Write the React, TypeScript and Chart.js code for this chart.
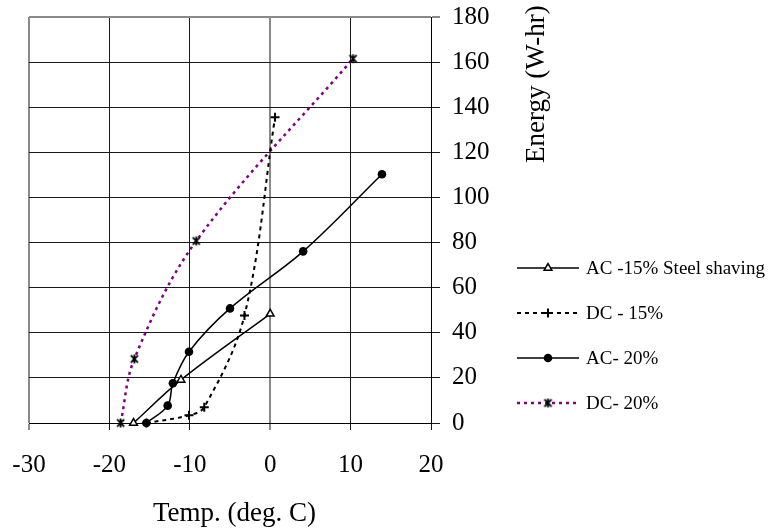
import React, { useEffect, useRef } from "react";
import { Chart, registerables } from "chart.js";

Chart.register(...registerables);

const FONT = "'Liberation Serif', 'Times New Roman', Times, serif";

// Axis ticks
const xTicks = [-30, -20, -10, 0, 10, 20];
const yTicks = [0, 20, 40, 60, 80, 100, 120, 140, 160, 180];
const xTitle = "Temp. (deg. C)";
const yTitle = "Energy (W-hr)";

// Series names
const seriesNames = ["AC -15% Steel shaving", "DC - 15%", "AC- 20%", "DC- 20%"];

// AC -15% Steel shaving
const acSteel15X = [-17.0, -11.1, 0.0];
const acSteel15Y = [0, 19.1, 48.4];

// DC - 15%
const dc15X = [-15.4, -10.1, -8.2, -3.2, 0.6];
const dc15Y = [0, 3.4, 7.0, 47.7, 135.5];

// AC- 20%
const ac20X = [-15.4, -12.75, -12.1, -10.1, -5.0, 4.1, 13.9];
const ac20Y = [0, 7.7, 17.6, 31.6, 50.8, 76.1, 110.3];

// DC- 20%
const dc20X = [-18.6, -16.9, -9.2, 10.3];
const dc20Y = [0, 28.4, 80.7, 161.5];

const PURPLE = "#800080";

function zip(xs: number[], ys: number[]) {
  return xs.map((x, i) => ({ x, y: ys[i] }));
}

function makeAsterisk(size: number, color: string) {
  const c = document.createElement("canvas");
  c.width = size;
  c.height = size;
  const g = c.getContext("2d")!;
  g.strokeStyle = color;
  g.lineWidth = 1.8;
  const m = size / 2;
  const r = size / 2 - 1;
  const d = r * 0.8;
  g.beginPath();
  g.moveTo(m - d, m - d);
  g.lineTo(m + d, m + d);
  g.moveTo(m + d, m - d);
  g.lineTo(m - d, m + d);
  g.moveTo(m, m - r);
  g.lineTo(m, m + r);
  g.stroke();
  return c;
}

function drawMarker(ctx: CanvasRenderingContext2D, kind: string, x: number, y: number, star: HTMLCanvasElement) {
  ctx.save();
  ctx.setLineDash([]);
  ctx.strokeStyle = "#000";
  ctx.fillStyle = "#000";
  if (kind === "triangle") {
    const r = 4.5;
    ctx.lineWidth = 1.5;
    ctx.fillStyle = "#fff";
    ctx.beginPath();
    ctx.moveTo(x, y - r);
    ctx.lineTo(x + r * 0.866, y + r * 0.5);
    ctx.lineTo(x - r * 0.866, y + r * 0.5);
    ctx.closePath();
    ctx.fill();
    ctx.stroke();
  } else if (kind === "cross") {
    const r = 4.5;
    ctx.lineWidth = 2;
    ctx.beginPath();
    ctx.moveTo(x - r, y);
    ctx.lineTo(x + r, y);
    ctx.moveTo(x, y - r);
    ctx.lineTo(x, y + r);
    ctx.stroke();
  } else if (kind === "circle") {
    ctx.beginPath();
    ctx.arc(x, y, 4.3, 0, Math.PI * 2);
    ctx.fill();
  } else {
    ctx.drawImage(star, x - star.width / 2, y - star.height / 2);
  }
  ctx.restore();
}

export default function App() {
  const canvasRef = useRef<HTMLCanvasElement | null>(null);

  useEffect(() => {
    if (!canvasRef.current) return;
    const star = makeAsterisk(11, "#000");

    const legendItems = [
      { name: seriesNames[0], color: "#000", dash: [] as number[], marker: "triangle", width: 1.5 },
      { name: seriesNames[1], color: "#000", dash: [4, 4], marker: "cross", width: 2 },
      { name: seriesNames[2], color: "#000", dash: [] as number[], marker: "circle", width: 1.5 },
      { name: seriesNames[3], color: PURPLE, dash: [3, 4], marker: "star", width: 2.5 },
    ];

    const decorPlugin = {
      id: "decor",
      afterDraw(chart: any) {
        const ctx: CanvasRenderingContext2D = chart.ctx;
        ctx.save();
        ctx.fillStyle = "#000";
        ctx.font = `27px ${FONT}`;
        ctx.textAlign = "left";
        ctx.textBaseline = "alphabetic";
        ctx.fillText(xTitle, 153, 521);

        ctx.save();
        ctx.translate(544, 163);
        ctx.rotate(-Math.PI / 2);
        ctx.fillText(yTitle, 0, 0);
        ctx.restore();

        // legend
        const rows = [268, 313, 358, 403];
        const x0 = 517;
        const x1 = 579;
        legendItems.forEach((it, i) => {
          const y = rows[i];
          ctx.save();
          ctx.strokeStyle = it.color;
          ctx.lineWidth = it.width;
          ctx.setLineDash(it.dash);
          ctx.beginPath();
          ctx.moveTo(x0, y);
          ctx.lineTo(x1, y);
          ctx.stroke();
          ctx.restore();
          drawMarker(ctx, it.marker, (x0 + x1) / 2, y, star);
          ctx.fillStyle = "#000";
          ctx.font = `19px ${FONT}`;
          ctx.textBaseline = "alphabetic";
          ctx.fillText(it.name, 586, y + 5.5);
        });
        ctx.restore();
      },
    };

    const gridColorX = (c: any) => {
      const v = c.tick ? c.tick.value : null;
      return v === -30 || v === 0 ? "#8a8a8a" : "#1a1a1a";
    };
    const gridWidthX = (c: any) => {
      const v = c.tick ? c.tick.value : null;
      return v === -30 || v === 0 ? 2 : 1;
    };
    const gridColorY = (c: any) => {
      const v = c.tick ? c.tick.value : null;
      return v === 180 ? "#8a8a8a" : "#1a1a1a";
    };
    const gridWidthY = (c: any) => {
      const v = c.tick ? c.tick.value : null;
      return v === 180 ? 2 : 1;
    };

    const chart = new Chart(canvasRef.current, {
      type: "line",
      data: {
        datasets: [
          {
            label: seriesNames[0],
            data: zip(acSteel15X, acSteel15Y),
            borderColor: "#000",
            borderWidth: 1.5,
            tension: 0.35,
            pointStyle: "triangle",
            pointRadius: 4.5,
            pointBackgroundColor: "#fff",
            pointBorderColor: "#000",
            pointBorderWidth: 1.5,
            clip: false,
          },
          {
            label: seriesNames[1],
            data: zip(dc15X, dc15Y),
            borderColor: "#000",
            borderWidth: 2,
            borderDash: [4, 4],
            tension: 0.35,
            pointStyle: "cross",
            pointRadius: 4.5,
            pointBorderColor: "#000",
            pointBorderWidth: 2,
            clip: false,
          },
          {
            label: seriesNames[2],
            data: zip(ac20X, ac20Y),
            borderColor: "#000",
            borderWidth: 1.5,
            tension: 0.35,
            pointStyle: "circle",
            pointRadius: 4.3,
            pointBackgroundColor: "#000",
            pointBorderColor: "#000",
            pointBorderWidth: 0,
            clip: false,
          },
          {
            label: seriesNames[3],
            data: zip(dc20X, dc20Y),
            borderColor: PURPLE,
            borderWidth: 2.5,
            borderDash: [3, 4],
            tension: 0.35,
            pointStyle: star as any,
            pointRadius: 5,
            clip: false,
          },
        ],
      },
      options: {
        animation: false,
        responsive: false,
        maintainAspectRatio: false,
        events: [],
        layout: { autoPadding: false, padding: { left: 29, top: 17, right: 0, bottom: 0 } },
        plugins: { legend: { display: false }, tooltip: { enabled: false }, title: { display: false } },
        scales: {
          x: {
            type: "linear",
            position: "bottom",
            min: -30,
            max: 20,
            afterBuildTicks: (s: any) => {
              s.ticks = xTicks.map((v) => ({ value: v }));
            },
            afterFit: (s: any) => {
              s.height = 529 - 423;
              s.paddingLeft = 0;
              s.paddingRight = 0;
              s.paddingTop = 0;
              s.paddingBottom = 0;
            },
            ticks: {
              color: "#000",
              font: { family: FONT, size: 25 },
              padding: 20,
              maxRotation: 0,
              autoSkip: false,
            },
            grid: { color: gridColorX, lineWidth: gridWidthX, tickLength: 7, drawTicks: true },
            border: { display: true, color: "#000", width: 1 },
          },
          y: {
            type: "linear",
            position: "right",
            min: 0,
            max: 180,
            afterBuildTicks: (s: any) => {
              s.ticks = yTicks.map((v) => ({ value: v }));
            },
            afterFit: (s: any) => {
              s.width = 773 - 431;
              s.paddingLeft = 0;
              s.paddingRight = 0;
              s.paddingTop = 0;
              s.paddingBottom = 0;
            },
            ticks: {
              color: "#000",
              font: { family: FONT, size: 25 },
              padding: 12,
              autoSkip: false,
            },
            grid: { color: gridColorY, lineWidth: gridWidthY, tickLength: 9, drawTicks: true },
            border: { display: true, color: "#000", width: 1 },
          },
        },
      },
      plugins: [decorPlugin],
    } as any);

    return () => chart.destroy();
  }, []);

  return (
    <div style={{ position: "fixed", left: 0, top: 0, width: 773, height: 529, background: "#fff" }}>
      <canvas ref={canvasRef} width={773} height={529} style={{ width: 773, height: 529, display: "block" }} />
    </div>
  );
}
